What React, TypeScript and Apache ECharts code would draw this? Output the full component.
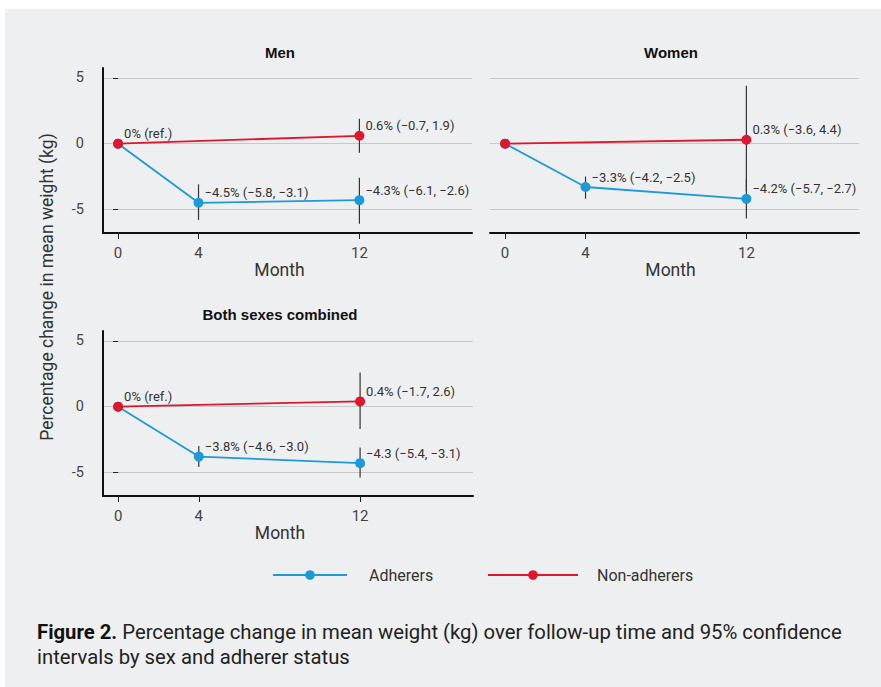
import React, { useEffect, useRef } from "react";
import * as echarts from "echarts";

// ---------- data ----------
const MONTHS_ADH = [0, 4, 12];
const MONTHS_NON = [0, 12];
const X_TICKS = [0, 4, 12];
const Y_TICKS = [-5, 0, 5];

const MEN_ADH = [0, -4.5, -4.3];
const MEN_ADH_LO = [0, -5.8, -6.1];
const MEN_ADH_HI = [0, -3.1, -2.6];
const MEN_ADH_LABELS = ["", "−4.5% (−5.8, −3.1)", "−4.3% (−6.1, −2.6)"];
const MEN_NON = [0, 0.6];
const MEN_NON_LO = [0, -0.7];
const MEN_NON_HI = [0, 1.9];
const MEN_NON_LABELS = ["0% (ref.)", "0.6% (−0.7, 1.9)"];

const WOMEN_ADH = [0, -3.3, -4.2];
const WOMEN_ADH_LO = [0, -4.2, -5.7];
const WOMEN_ADH_HI = [0, -2.5, -2.7];
const WOMEN_ADH_LABELS = ["", "−3.3% (−4.2, −2.5)", "−4.2% (−5.7, −2.7)"];
const WOMEN_NON = [0, 0.3];
const WOMEN_NON_LO = [0, -3.6];
const WOMEN_NON_HI = [0, 4.4];
const WOMEN_NON_LABELS = ["", "0.3% (−3.6, 4.4)"];

const BOTH_ADH = [0, -3.8, -4.3];
const BOTH_ADH_LO = [0, -4.6, -5.4];
const BOTH_ADH_HI = [0, -3.0, -3.1];
const BOTH_ADH_LABELS = ["", "−3.8% (−4.6, −3.0)", "−4.3 (−5.4, −3.1)"];
const BOTH_NON = [0, 0.4];
const BOTH_NON_LO = [0, -1.7];
const BOTH_NON_HI = [0, 2.6];
const BOTH_NON_LABELS = ["0% (ref.)", "0.4% (−1.7, 2.6)"];

const PANEL_TITLES = ["Men", "Women", "Both sexes combined"];
const SERIES_NAMES = ["Adherers", "Non-adherers"];
const Y_TITLE = "Percentage change in mean weight (kg)";
const X_TITLE = "Month";
const CAPTION_BOLD = "Figure 2.";
const CAPTION_1 =
  " Percentage change in mean weight (kg) over follow-up time and 95% confidence";
const CAPTION_2 = "intervals by sex and adherer status";

// ---------- style / layout ----------
const BLUE = "#1b9ad8";
const RED = "#e0162d";
const BG = "#eeeff1";
const FONT = "Roboto";

const PANELS = [
  {
    grid: { left: 103, top: 68, width: 369, height: 165 },
    showY: true,
    titleX: 280,
    titleY: 52,
    nameShift: 16,
    adh: MEN_ADH, adhLo: MEN_ADH_LO, adhHi: MEN_ADH_HI, adhLabels: MEN_ADH_LABELS,
    non: MEN_NON, nonLo: MEN_NON_LO, nonHi: MEN_NON_HI, nonLabels: MEN_NON_LABELS,
  },
  {
    grid: { left: 490, top: 68, width: 369, height: 165 },
    showY: false,
    titleX: 671,
    titleY: 52,
    nameShift: 8,
    adh: WOMEN_ADH, adhLo: WOMEN_ADH_LO, adhHi: WOMEN_ADH_HI, adhLabels: WOMEN_ADH_LABELS,
    non: WOMEN_NON, nonLo: WOMEN_NON_LO, nonHi: WOMEN_NON_HI, nonLabels: WOMEN_NON_LABELS,
  },
  {
    grid: { left: 103, top: 331, width: 370, height: 165 },
    showY: true,
    titleX: 280,
    titleY: 314,
    nameShift: 16,
    adh: BOTH_ADH, adhLo: BOTH_ADH_LO, adhHi: BOTH_ADH_HI, adhLabels: BOTH_ADH_LABELS,
    non: BOTH_NON, nonLo: BOTH_NON_LO, nonHi: BOTH_NON_HI, nonLabels: BOTH_NON_LABELS,
  },
];

const Y_MIN = -6.8;
const Y_MAX = 5.76;
const X_MIN = -0.75;
const X_MAX = 17.6;

function buildOption() {
  const grid: any[] = [];
  const xAxis: any[] = [];
  const yAxis: any[] = [];
  const series: any[] = [];
  const graphic: any[] = [
    { type: "rect", shape: { x: 0, y: 0, width: 881, height: 9 }, style: { fill: "#ffffff" }, silent: true },
    { type: "rect", shape: { x: 0, y: 0, width: 5, height: 687 }, style: { fill: "#ffffff" }, silent: true },
  ];

  const labelStyle = {
    show: true,
    position: "right",
    distance: 1,
    offset: [0, -10],
    color: "#333",
    fontSize: 13,
    fontFamily: FONT,
  };

  PANELS.forEach((p, i) => {
    grid.push({ ...p.grid, containLabel: false });
    xAxis.push({
      gridIndex: i,
      type: "value",
      min: X_MIN,
      max: X_MAX,
      axisLine: { show: true, onZero: false, lineStyle: { color: "#111", width: 2 } },
      axisTick: { show: true, length: 6, customValues: X_TICKS, lineStyle: { color: "#222", width: 1 } },
      axisLabel: { show: true, customValues: X_TICKS, margin: 12, fontSize: 15, color: "#444", fontFamily: FONT },
      splitLine: { show: false },
      name: X_TITLE,
      nameLocation: "middle",
      nameGap: 28,
      nameTextStyle: { fontSize: 17.5, color: "#333", fontFamily: FONT, padding: [0, p.nameShift, 0, 0] },
    });
    yAxis.push({
      gridIndex: i,
      type: "value",
      min: Y_MIN,
      max: Y_MAX,
      axisLine: { show: p.showY, onZero: false, lineStyle: { color: "#111", width: 2 } },
      axisTick: { show: false, customValues: Y_TICKS },
      axisLabel: { show: false },
      splitLine: { show: true, lineStyle: { color: "#c8c8c8", width: 1 } },
    });
    yAxis.push({
      gridIndex: i,
      type: "value",
      show: p.showY,
      position: "left",
      offset: 3,
      min: Y_MIN,
      max: Y_MAX,
      axisLine: { show: false },
      axisTick: { show: true, length: 5, customValues: Y_TICKS, lineStyle: { color: "#222", width: 1 } },
      axisLabel: { show: true, customValues: Y_TICKS, margin: 16, fontSize: 14.5, color: "#444", fontFamily: FONT },
      splitLine: { show: false },
    });

    const bars: number[][] = [];
    MONTHS_ADH.forEach((m, k) => {
      if (p.adhLo[k] !== p.adhHi[k]) bars.push([m, p.adhLo[k], p.adhHi[k]]);
    });
    MONTHS_NON.forEach((m, k) => {
      if (p.nonLo[k] !== p.nonHi[k]) bars.push([m, p.nonLo[k], p.nonHi[k]]);
    });

    series.push({
      type: "custom",
      name: "CI",
      xAxisIndex: i,
      yAxisIndex: 2 * i,
      silent: true,
      z: 1,
      encode: { x: 0, y: [1, 2] },
      data: bars,
      renderItem: (params: any, api: any) => {
        const x = api.value(0);
        const a = api.coord([x, api.value(1)]);
        const b = api.coord([x, api.value(2)]);
        return {
          type: "line",
          shape: { x1: a[0], y1: a[1], x2: b[0], y2: b[1] },
          style: { stroke: "#333", lineWidth: 1.2 },
        };
      },
    });

    series.push({
      type: "line",
      name: SERIES_NAMES[0],
      xAxisIndex: i,
      yAxisIndex: 2 * i,
      z: 3,
      data: MONTHS_ADH.map((m, k) => [m, p.adh[k]]),
      symbol: "circle",
      symbolSize: 10,
      showSymbol: true,
      color: BLUE,
      itemStyle: { color: BLUE },
      lineStyle: { color: BLUE, width: 1.8 },
      emphasis: { disabled: true },
      label: { ...labelStyle, formatter: (q: any) => p.adhLabels[q.dataIndex] },
    });
    series.push({
      type: "line",
      name: SERIES_NAMES[1],
      xAxisIndex: i,
      yAxisIndex: 2 * i,
      z: 4,
      data: MONTHS_NON.map((m, k) => [m, p.non[k]]),
      symbol: "circle",
      symbolSize: 10,
      showSymbol: true,
      color: RED,
      itemStyle: { color: RED },
      lineStyle: { color: RED, width: 1.8 },
      emphasis: { disabled: true },
      label: { ...labelStyle, formatter: (q: any) => p.nonLabels[q.dataIndex] },
    });

    graphic.push({
      type: "text",
      x: p.titleX,
      y: p.titleY,
      silent: true,
      style: {
        text: PANEL_TITLES[i],
        font: 'bold 15px "Liberation Sans"',
        fill: "#111",
        align: "center",
        verticalAlign: "middle",
      },
    });
  });

  graphic.push({
    type: "text",
    x: 47,
    y: 287,
    rotation: Math.PI / 2,
    silent: true,
    style: {
      text: Y_TITLE,
      font: `17.5px ${FONT}`,
      fill: "#333",
      align: "center",
      verticalAlign: "middle",
    },
  });
  graphic.push({
    type: "text",
    x: 37,
    y: 632,
    silent: true,
    style: {
      text: `{b|${CAPTION_BOLD}}${CAPTION_1}`,
      font: `20.3px ${FONT}`,
      fill: "#222",
      verticalAlign: "middle",
      rich: { b: { font: `bold 20.3px ${FONT}`, fill: "#111" } },
    },
  });
  graphic.push({
    type: "text",
    x: 37,
    y: 657,
    silent: true,
    style: {
      text: CAPTION_2,
      font: `20.3px ${FONT}`,
      fill: "#222",
      verticalAlign: "middle",
    },
  });

  const legendBase = {
    top: 562,
    itemHeight: 12,
    selectedMode: false,
  };
  const legendText = { fontSize: 16, color: "#333", fontFamily: FONT };

  return {
    animation: false,
    backgroundColor: BG,
    grid,
    xAxis,
    yAxis,
    series,
    graphic,
    legend: [
      {
        ...legendBase,
        data: [SERIES_NAMES[0]],
        left: 267,
        itemWidth: 74,
        textStyle: { ...legendText, padding: [0, 0, 0, 17] },
      },
      {
        ...legendBase,
        data: [SERIES_NAMES[1]],
        left: 482,
        itemWidth: 90,
        textStyle: { ...legendText, padding: [0, 0, 0, 14] },
      },
    ],
  };
}

export default function App() {
  const ref = useRef<HTMLDivElement>(null);
  useEffect(() => {
    if (!ref.current) return;
    const chart = echarts.init(ref.current, null, { renderer: "svg" });
    chart.setOption(buildOption() as any);
    return () => chart.dispose();
  }, []);
  return (
    <div
      ref={ref}
      style={{ position: "fixed", left: 0, top: 0, width: 881, height: 687 }}
    />
  );
}
